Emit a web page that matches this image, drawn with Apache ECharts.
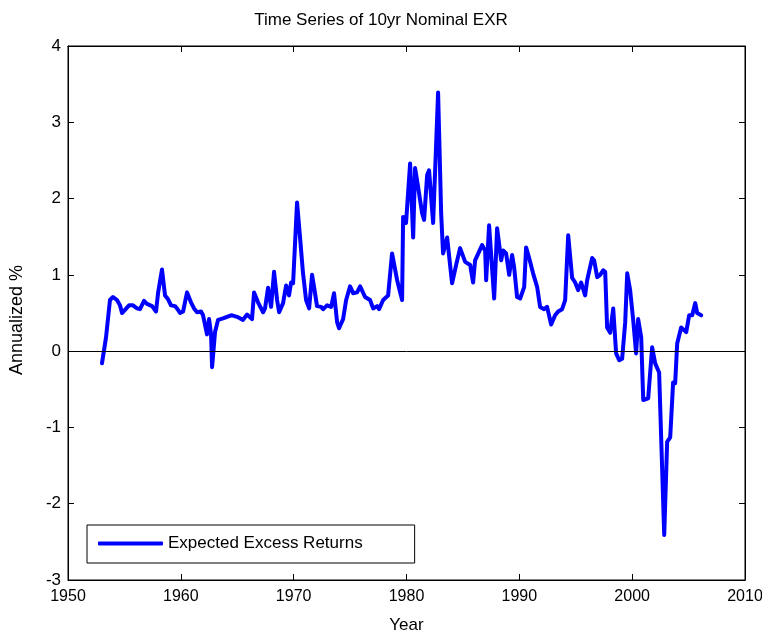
<!DOCTYPE html>
<html>
<head>
<meta charset="utf-8">
<script src="https://cdn.jsdelivr.net/npm/echarts@6/dist/echarts.min.js"></script>
<style>html,body{margin:0;padding:0;background:#fff;}#chart{width:762px;height:633px;}</style>
</head>
<body>
<div id="chart"></div>
<script>
var years = [1953.01,1953.37,1953.72,1953.99,1954.34,1954.61,1954.79,1955.05,1955.41,1955.76,1956.12,1956.38,1956.74,1957.00,1957.45,1957.80,1957.98,1958.33,1958.60,1958.87,1959.13,1959.49,1959.66,1959.93,1960.20,1960.55,1960.90,1961.17,1961.44,1961.79,1961.97,1962.32,1962.50,1962.68,1962.77,1963.03,1963.30,1963.74,1964.27,1964.54,1964.98,1965.51,1965.87,1966.31,1966.49,1966.84,1967.29,1967.46,1967.73,1968.00,1968.26,1968.53,1968.71,1969.06,1969.33,1969.59,1969.77,1969.95,1970.30,1970.57,1970.83,1971.10,1971.37,1971.63,1971.81,1972.07,1972.43,1972.61,1972.96,1973.32,1973.58,1973.85,1974.02,1974.38,1974.65,1975.00,1975.27,1975.62,1975.89,1976.06,1976.33,1976.77,1977.04,1977.39,1977.57,1977.93,1978.37,1978.72,1979.17,1979.61,1979.70,1979.96,1980.32,1980.59,1980.76,1981.03,1981.38,1981.56,1981.83,1982.00,1982.36,1982.80,1983.07,1983.24,1983.60,1984.04,1984.40,1984.75,1985.20,1985.64,1985.90,1986.08,1986.70,1986.97,1987.06,1987.32,1987.77,1988.03,1988.39,1988.56,1988.83,1989.10,1989.36,1989.54,1989.80,1990.07,1990.43,1990.60,1990.87,1991.22,1991.58,1991.84,1992.20,1992.46,1992.82,1993.17,1993.44,1993.79,1994.06,1994.33,1994.68,1994.95,1995.21,1995.48,1995.83,1996.01,1996.45,1996.63,1996.90,1997.16,1997.43,1997.61,1997.78,1998.05,1998.32,1998.58,1998.85,1999.11,1999.38,1999.56,1999.82,2000.09,2000.35,2000.53,2000.80,2000.98,2001.42,2001.77,2002.04,2002.39,2002.84,2003.10,2003.37,2003.63,2003.81,2003.99,2004.34,2004.79,2005.05,2005.32,2005.59,2005.76,2006.12];
var expectedExcessReturns = [-0.16,0.18,0.67,0.71,0.67,0.60,0.50,0.54,0.60,0.60,0.56,0.55,0.66,0.62,0.59,0.52,0.76,1.07,0.73,0.68,0.60,0.59,0.56,0.50,0.52,0.77,0.64,0.56,0.51,0.52,0.47,0.22,0.42,0.22,-0.21,0.25,0.41,0.43,0.46,0.47,0.45,0.41,0.48,0.42,0.77,0.64,0.51,0.56,0.83,0.58,1.04,0.67,0.51,0.63,0.86,0.73,0.90,0.89,1.95,1.48,1.02,0.67,0.56,1.00,0.84,0.59,0.58,0.55,0.60,0.58,0.76,0.38,0.30,0.42,0.67,0.85,0.76,0.77,0.85,0.84,0.71,0.67,0.56,0.59,0.55,0.67,0.73,1.28,0.93,0.67,1.76,1.68,2.46,1.49,2.40,2.15,1.81,1.72,2.31,2.37,1.68,3.39,1.81,1.28,1.49,0.89,1.13,1.35,1.17,1.13,0.90,1.19,1.39,1.32,0.93,1.65,0.69,1.61,1.19,1.32,1.28,1.00,1.26,1.10,0.71,0.69,0.84,1.36,1.22,1.02,0.84,0.58,0.55,0.58,0.35,0.47,0.52,0.55,0.67,1.52,0.96,0.90,0.80,0.90,0.73,0.93,1.22,1.19,0.97,1.00,1.06,1.04,0.31,0.24,0.56,-0.03,-0.12,-0.10,0.37,1.02,0.80,0.41,-0.03,0.42,0.18,-0.64,-0.62,0.05,-0.16,-0.28,-2.41,-1.19,-1.13,-0.41,-0.42,0.10,0.31,0.25,0.47,0.47,0.63,0.50,0.47];
var xTicks = [1950,1960,1970,1980,1990,2000,2010];
var yTicks = [-3,-2,-1,0,1,2,3,4];

var FONT = '"Liberation Sans",Arial,sans-serif';
var seriesData = years.map(function(y,i){return [y, expectedExcessReturns[i]];});

var chart = echarts.init(document.getElementById('chart'), null, {renderer:'canvas'});
var axisCommon = {
  axisLine:{show:true,onZero:false,lineStyle:{color:'#000',width:1}},
  axisTick:{show:true,inside:true,length:6,lineStyle:{color:'#000',width:1}},
  splitLine:{show:false}
};
chart.setOption({
  animation:false,
  backgroundColor:'#fff',
  title:{text:'Time Series of 10yr Nominal EXR',left:'center',top:7,
    textStyle:{fontFamily:FONT,fontSize:17,fontWeight:'normal',color:'#000'}},
  grid:{left:68,right:17,top:46,bottom:53,show:true,borderColor:'#000',borderWidth:1,
    outerBoundsMode:'none',containLabel:false},
  legend:{show:true,left:87,top:525,orient:'horizontal',
    padding:[10,52,11,11],borderColor:'#000',borderWidth:1,backgroundColor:'#fff',
    itemWidth:65,itemHeight:4,icon:'roundRect',
    textStyle:{fontFamily:FONT,fontSize:17,color:'#000'},
    data:['Expected Excess Returns']},
  xAxis:[
    Object.assign({type:'value',min:1950,max:2010,interval:10,position:'bottom',
      name:'Year',nameLocation:'middle',nameGap:37,
      nameTextStyle:{fontFamily:FONT,fontSize:17,color:'#000'},
      axisLabel:{fontFamily:FONT,fontSize:16,color:'#000',margin:9,
        formatter:function(v){return String(v);}}},axisCommon),
    Object.assign({type:'value',min:1950,max:2010,interval:10,position:'top',
      axisLabel:{show:false}},axisCommon)
  ],
  yAxis:[
    Object.assign({type:'value',min:-3,max:4,interval:1,position:'left',
      name:'Annualized %',nameLocation:'middle',nameGap:42,nameRotate:90,
      nameTextStyle:{fontFamily:FONT,fontSize:18,color:'#000',padding:[0,14,0,0]},
      axisLabel:{fontFamily:FONT,fontSize:17,color:'#000',margin:7,
        formatter:function(v){return String(v);}}},axisCommon),
    Object.assign({type:'value',min:-3,max:4,interval:1,position:'right',
      axisLabel:{show:false}},axisCommon)
  ],
  series:[{
    name:'Expected Excess Returns',type:'line',data:seriesData,
    showSymbol:false,symbol:'none',
    lineStyle:{color:'#0000ff',width:4,join:'round',cap:'round'},
    itemStyle:{color:'#0000ff'},
    markLine:{silent:true,symbol:['none','none'],label:{show:false},
      lineStyle:{color:'#000',width:1,type:'solid'},
      data:[{yAxis:0}]}
  }]
});
</script>
</body>
</html>
